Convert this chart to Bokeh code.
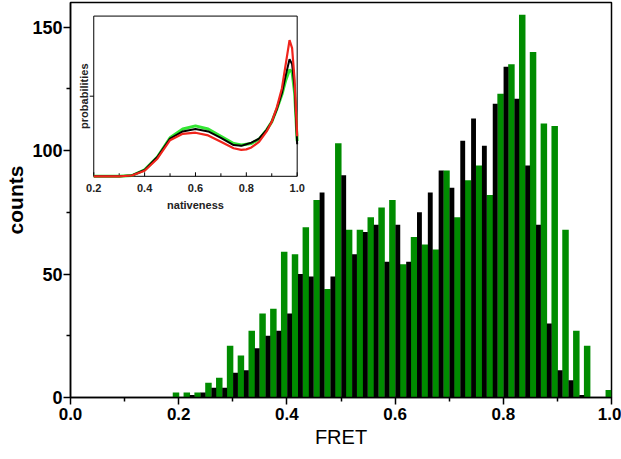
import math
from bokeh.plotting import figure
from bokeh.models import Range1d, FixedTicker, PrintfTickFormatter
from bokeh.core.properties import value
from bokeh.embed import file_html
from bokeh.resources import INLINE

# ---------------- data: main histogram ----------------
green_centers = [0.195, 0.215, 0.235, 0.255, 0.275, 0.295, 0.315, 0.335, 0.355, 0.375,
                 0.395, 0.415, 0.435, 0.455, 0.475, 0.495, 0.515, 0.535, 0.555, 0.575,
                 0.595, 0.615, 0.635, 0.655, 0.675, 0.695, 0.715, 0.735, 0.755, 0.775,
                 0.795, 0.815, 0.835, 0.855, 0.875, 0.895, 0.915, 0.935, 0.955, 0.975,
                 0.995]
green_counts = [2, 2, 2, 6, 8, 21, 17, 27, 34, 36,
                59, 58, 69, 80, 44, 103, 68, 68, 73, 77,
                80, 54, 65, 62, 60, 92, 73, 88, 94, 82,
                123, 135, 155, 140, 111, 110, 68, 27, 21, 0,
                3]
black_centers = [0.225, 0.245, 0.265, 0.285, 0.305, 0.325, 0.345, 0.365, 0.385, 0.405,
                 0.425, 0.445, 0.465, 0.485, 0.505, 0.525, 0.545, 0.565, 0.585, 0.605,
                 0.625, 0.645, 0.665, 0.685, 0.705, 0.725, 0.745, 0.765, 0.785, 0.805,
                 0.825, 0.845, 0.865, 0.885, 0.905, 0.925, 0.945]
black_counts = [1, 2, 4, 4, 10, 11, 20, 25, 27, 34,
                50, 49, 83, 49, 90, 58, 67, 70, 55, 70,
                55, 75, 83, 92, 85, 104, 113, 102, 119, 134,
                121, 94, 70, 30, 11, 7, 1]

x_ticks = [0.0, 0.2, 0.4, 0.6, 0.8, 1.0]
x_minor = [0.1, 0.3, 0.5, 0.7, 0.9]
y_ticks = [0, 50, 100, 150]
y_minor = [25, 75, 125]

# ---------------- data: inset curves ----------------
nat_x = [0.20, 0.30, 0.35, 0.40, 0.45, 0.50, 0.55, 0.60, 0.65, 0.70, 0.75, 0.78,
         0.80, 0.82, 0.85, 0.88, 0.90, 0.92, 0.94, 0.955, 0.97, 0.98, 0.99, 1.00]
prob_red = [0.00, 0.00, 0.005, 0.035, 0.11, 0.225, 0.265, 0.272, 0.255, 0.215, 0.175, 0.165,
            0.168, 0.18, 0.215, 0.28, 0.34, 0.43, 0.55, 0.70, 0.85, 0.80, 0.60, 0.25]
prob_black = [0.00, 0.00, 0.005, 0.04, 0.12, 0.235, 0.28, 0.295, 0.28, 0.24, 0.195, 0.19,
              0.20, 0.21, 0.235, 0.29, 0.34, 0.42, 0.52, 0.63, 0.73, 0.70, 0.55, 0.20]
prob_green = [0.00, 0.00, 0.005, 0.04, 0.12, 0.24, 0.295, 0.315, 0.295, 0.25, 0.205, 0.195,
              0.20, 0.205, 0.232, 0.29, 0.34, 0.42, 0.51, 0.60, 0.665, 0.65, 0.52, 0.22]
inset_x_ticks = [0.2, 0.4, 0.6, 0.8, 1.0]
inset_x_labels = ["0.2", "0.4", "0.6", "0.8", "1.0"]
inset_x_minor = [0.3, 0.5, 0.7, 0.9]
inset_y_ticks = [0.5]

# ---------------- layout ----------------
X_MAIN = (0.0, 1.0)
Y_MAIN = (0.0, 160.0)
INSET_XR = (0.2, 1.0)          # inset data range
INSET_YR = (0.0, 1.0)
INSET_BOX_X = (0.043, 0.419)   # inset frame position in main data units
INSET_BOX_Y = (89.6, 154.5)

FONT = value("Liberation Sans")

p = figure(width=621, height=459, x_range=Range1d(*X_MAIN), y_range=Range1d(*Y_MAIN),
           output_backend="svg", toolbar_location=None,
           min_border_left=70, min_border_right=10, min_border_top=2, min_border_bottom=62)
p.grid.visible = False
p.outline_line_color = "black"
p.outline_line_width = 1.5
p.background_fill_color = "white"
p.border_fill_color = "white"

# bars
p.vbar(x=green_centers, top=green_counts, width=0.012, bottom=0,
       fill_color="#008c00", line_color=None)
p.vbar(x=black_centers, top=black_counts, width=0.009, bottom=0,
       fill_color="black", line_color=None)

# axes styling
for ax in (p.xaxis[0], p.yaxis[0]):
    ax.axis_line_width = 1.5
    ax.major_tick_line_width = 1.5
    ax.minor_tick_line_width = 1.5
    ax.major_tick_out = 7
    ax.major_tick_in = 0
    ax.minor_tick_out = 4
    ax.minor_tick_in = 0
    ax.major_label_text_font = "Liberation Sans"
    ax.major_label_text_font_style = "bold"
    ax.major_label_text_color = "black"
    ax.axis_label_text_font = "Liberation Sans"
    ax.axis_label_text_color = "black"

p.xaxis.ticker = FixedTicker(ticks=x_ticks, minor_ticks=x_minor)
p.xaxis.formatter = PrintfTickFormatter(format="%.1f")
p.xaxis.major_label_text_font_size = "17px"
p.xaxis.major_label_standoff = 3
p.xaxis.axis_label = "FRET"
p.xaxis.axis_label_text_font_size = "20px"
p.xaxis.axis_label_text_font_style = "normal"
p.xaxis.axis_label_standoff = 3

p.yaxis.ticker = FixedTicker(ticks=y_ticks, minor_ticks=y_minor)
p.yaxis.major_label_text_font_size = "18px"
p.yaxis.major_label_standoff = 1
p.yaxis.axis_label = "counts"
p.yaxis.axis_label_text_font_size = "21px"
p.yaxis.axis_label_text_font_style = "bold"
p.yaxis.axis_label_standoff = 2

# inset ranges mapped into the main frame
fx0 = (INSET_BOX_X[0] - X_MAIN[0]) / (X_MAIN[1] - X_MAIN[0])
fx1 = (INSET_BOX_X[1] - X_MAIN[0]) / (X_MAIN[1] - X_MAIN[0])
span_x = (INSET_XR[1] - INSET_XR[0]) / (fx1 - fx0)
ix_start = INSET_XR[0] - fx0 * span_x
fy0 = (INSET_BOX_Y[0] - Y_MAIN[0]) / (Y_MAIN[1] - Y_MAIN[0])
fy1 = (INSET_BOX_Y[1] - Y_MAIN[0]) / (Y_MAIN[1] - Y_MAIN[0])
span_y = (INSET_YR[1] - INSET_YR[0]) / (fy1 - fy0)
iy_start = INSET_YR[0] - fy0 * span_y
p.extra_x_ranges = {"ix": Range1d(ix_start, ix_start + span_x)}
p.extra_y_ranges = {"iy": Range1d(iy_start, iy_start + span_y)}
R = dict(x_range_name="ix", y_range_name="iy")

# inset frame
p.quad(left=[INSET_XR[0]], right=[INSET_XR[1]], bottom=[INSET_YR[0]], top=[INSET_YR[1]],
       fill_color="white", line_color="black", line_width=1, **R)

# inset ticks
p.ray(x=inset_x_ticks, y=[INSET_YR[0]] * len(inset_x_ticks), length=4, length_units="screen",
      angle=math.pi / 2, line_color="black", line_width=1, **R)
p.ray(x=inset_x_minor, y=[INSET_YR[0]] * len(inset_x_minor), length=3, length_units="screen",
      angle=math.pi / 2, line_color="black", line_width=1, **R)
p.ray(x=[INSET_XR[0]] * len(inset_y_ticks), y=inset_y_ticks, length=4, length_units="screen",
      angle=math.pi, line_color="black", line_width=1, **R)

# inset curves
p.line(nat_x, prob_green, line_color="#33e633", line_width=3, **R)
p.line(nat_x, prob_black, line_color="black", line_width=2, **R)
p.line(nat_x, prob_red, line_color="#f0241c", line_width=2.2, **R)

# inset labels
p.text(x=inset_x_ticks, y=[INSET_YR[0]] * len(inset_x_ticks), text=inset_x_labels,
       text_align="center", text_baseline="top", y_offset=8,
       text_font=FONT, text_font_style="bold", text_font_size="11px", text_color="#222222", **R)
p.text(x=[(INSET_XR[0] + INSET_XR[1]) / 2], y=[INSET_YR[0]], text=["nativeness"],
       text_align="center", text_baseline="top", y_offset=23,
       text_font=FONT, text_font_style="bold", text_font_size="11px", text_color="#222222", **R)
p.text(x=[INSET_XR[0]], y=[(INSET_YR[0] + INSET_YR[1]) / 2], text=["probabilities"],
       text_align="center", text_baseline="middle", x_offset=-10, angle=math.pi / 2,
       text_font=FONT, text_font_style="bold", text_font_size="11px", text_color="#222222", **R)

open("out.html", "w").write(file_html(p, INLINE))
